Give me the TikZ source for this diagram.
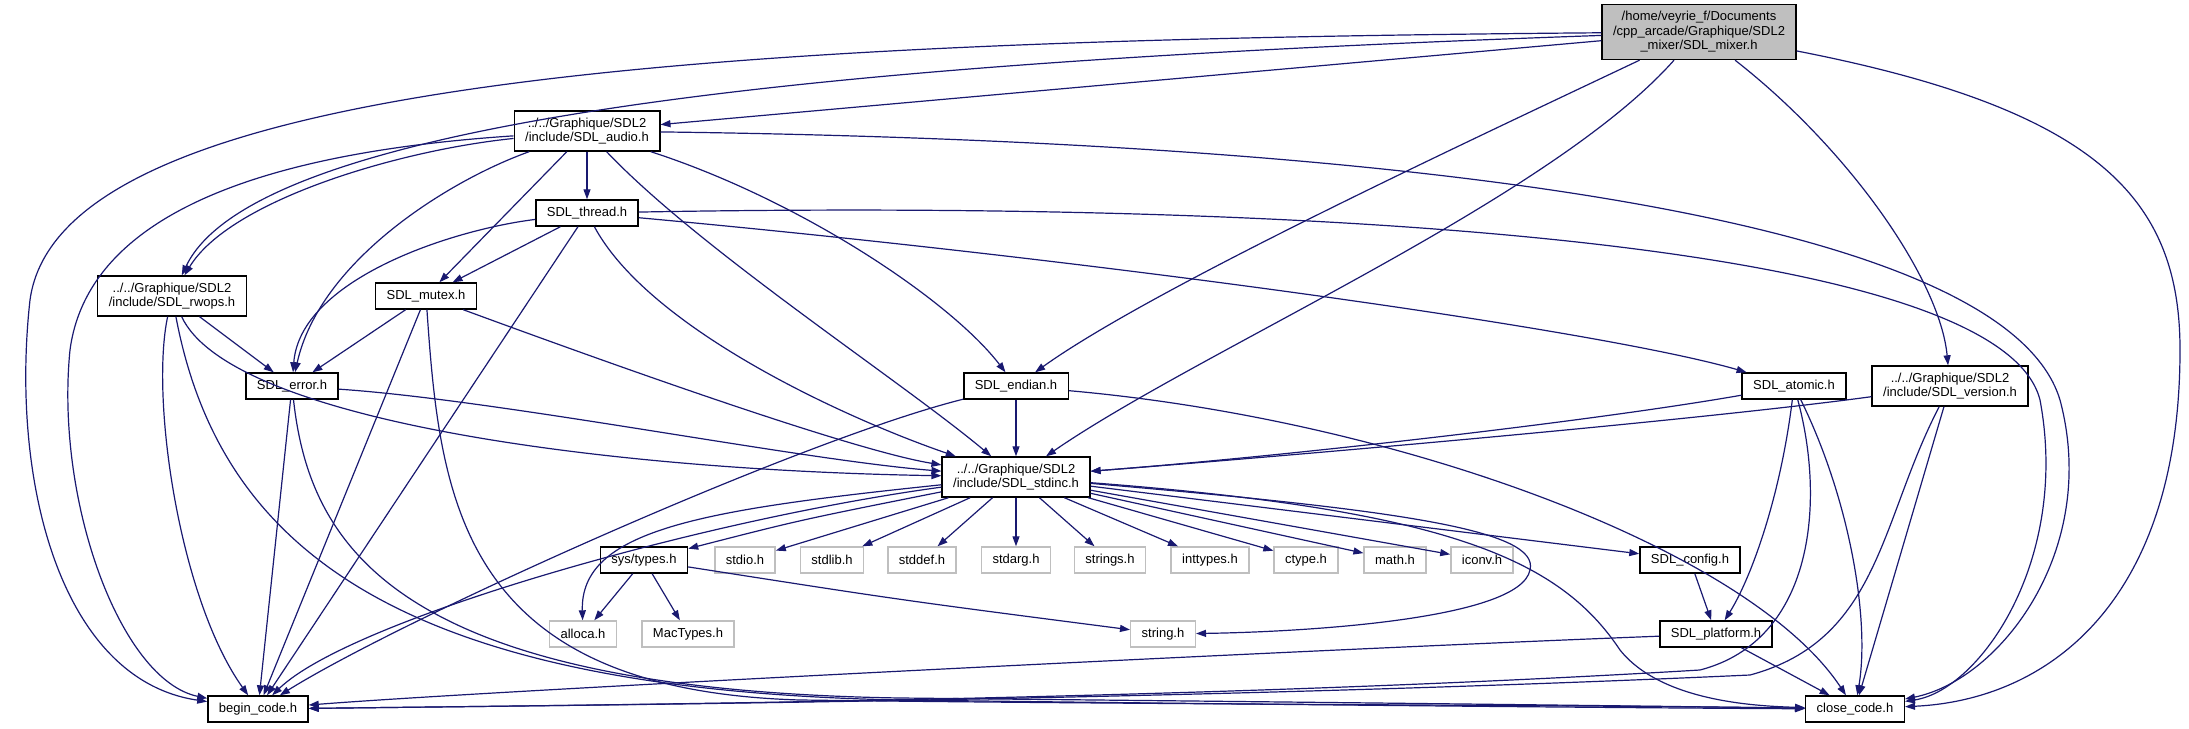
\documentclass[tikz,border=0pt]{standalone}
\usepackage{fontspec}
\setmainfont{Liberation Sans}
\usetikzlibrary{arrows.meta}

\begin{document}
\begin{tikzpicture}[
        x=1pt, y=-1pt,
        file/.style={
          rectangle,
          draw=black,
          line width=1.4pt,
          fill=white,
          inner xsep=11pt,
          minimum height=26pt,
          align=center,
          font=\fontsize{13}{14.5}\selectfont
        },
        twoline/.style={file, minimum height=40pt},
        sysfile/.style={file, draw=gray!50},
        current/.style={file, fill=gray!50, minimum height=55pt},
        edge/.style={
          -{Triangle[length=10pt,width=7pt]},
          draw={rgb,255:red,25;green,25;blue,112},
          line width=1.2pt
        }
      ]
      \useasboundingbox (0,0) rectangle (2189,728);

      % Nodes
      \node [current] (mixer) at (1699,32) {/home/veyrie\_f/Documents\\/cpp\_arcade/Graphique/SDL2\\\_mixer/SDL\_mixer.h};
      \node [twoline] (audio) at (587,131) {../../Graphique/SDL2\\/include/SDL\_audio.h};
      \node [file] (thread) at (587,213) {SDL\_thread.h};
      \node [twoline] (rwops) at (172,296) {../../Graphique/SDL2\\/include/SDL\_rwops.h};
      \node [file] (mutex) at (426,296) {SDL\_mutex.h};
      \node [file] (error) at (292,386) {SDL\_error.h};
      \node [file] (endian) at (1016,386) {SDL\_endian.h};
      \node [file] (atomic) at (1794,386) {SDL\_atomic.h};
      \node [twoline] (version) at (1950,386) {../../Graphique/SDL2\\/include/SDL\_version.h};
      \node [twoline] (stdinc) at (1016,477) {../../Graphique/SDL2\\/include/SDL\_stdinc.h};
      \node [file] (systypes) at (644,560) {sys/types.h};
      \node [sysfile] (stdio) at (745,560) {stdio.h};
      \node [sysfile] (stdlib) at (832,560) {stdlib.h};
      \node [sysfile] (stddef) at (922,560) {stddef.h};
      \node [sysfile] (stdarg) at (1016,560) {stdarg.h};
      \node [sysfile] (strings) at (1110,560) {strings.h};
      \node [sysfile] (inttypes) at (1210,560) {inttypes.h};
      \node [sysfile] (ctype) at (1306,560) {ctype.h};
      \node [sysfile] (math) at (1395,560) {math.h};
      \node [sysfile] (iconv) at (1482,560) {iconv.h};
      \node [file] (config) at (1690,560) {SDL\_config.h};
      \node [sysfile] (alloca) at (583,634) {alloca.h};
      \node [sysfile] (mactypes) at (688,634) {MacTypes.h};
      \node [sysfile] (string) at (1163,634) {string.h};
      \node [file] (platform) at (1716,634) {SDL\_platform.h};
      \node [file] (begin) at (258,709) {begin\_code.h};
      \node [file] (close) at (1855,709) {close\_code.h};

      % SDL_mixer.h
      \draw [edge] (mixer) .. controls (700,40) and (60,80) .. (30,300) .. controls (10,480) and (60,680) .. (begin);
      \draw [edge] (mixer) -- (audio);
      \draw [edge] (mixer) .. controls (900,60) and (260,110) .. (rwops);
      \draw [edge] (mixer) .. controls (1450,150) and (1150,290) .. (endian);
      \draw [edge] (mixer) .. controls (1550,200) and (1200,350) .. (stdinc);
      \draw [edge] (mixer) .. controls (1850,150) and (1940,280) .. (version);
      \draw [edge] (mixer) .. controls (2100,110) and (2180,200) .. (2180,350) .. controls (2180,600) and (2050,700) .. (close);

      % SDL_audio.h
      \draw [edge] (audio) .. controls (400,150) and (230,200) .. (rwops);
      \draw [edge] (audio) .. controls (300,150) and (90,200) .. (70,350) .. controls (55,500) and (120,680) .. (begin);
      \draw [edge] (audio) .. controls (450,180) and (320,260) .. (error);
      \draw [edge] (audio) -- (mutex);
      \draw [edge] (audio) -- (thread);
      \draw [edge] (audio) .. controls (700,250) and (900,380) .. (stdinc);
      \draw [edge] (audio) .. controls (800,200) and (950,300) .. (endian);
      \draw [edge] (audio) .. controls (1300,140) and (2000,200) .. (2060,400) .. controls (2100,550) and (2000,680) .. (close);

      % SDL_thread.h
      \draw [edge] (thread) .. controls (450,230) and (300,280) .. (error);
      \draw [edge] (thread) -- (mutex);
      \draw [edge] (thread) .. controls (650,330) and (850,420) .. (stdinc);
      \draw [edge] (thread) -- (begin);
      \draw [edge] (thread) .. controls (1100,260) and (1600,330) .. (atomic);
      \draw [edge] (thread) .. controls (1300,200) and (2000,240) .. (2040,400) .. controls (2070,560) and (1980,690) .. (close);

      % SDL_mutex.h
      \draw [edge] (mutex) -- (error);
      \draw [edge] (mutex) .. controls (600,360) and (850,450) .. (stdinc);
      \draw [edge] (mutex) -- (begin);
      \draw [edge] (mutex) .. controls (440,500) and (460,690) .. (800,700) .. controls (1200,705) and (1600,705) .. (close);

      % SDL_rwops.h
      \draw [edge] (rwops) -- (error);
      \draw [edge] (rwops) .. controls (230,420) and (600,470) .. (stdinc);
      \draw [edge] (rwops) .. controls (150,400) and (180,600) .. (begin);
      \draw [edge] (rwops) .. controls (220,550) and (400,690) .. (900,700) .. controls (1300,705) and (1650,708) .. (close);

      % SDL_error.h
      \draw [edge] (error) .. controls (500,400) and (800,460) .. (stdinc);
      \draw [edge] (error) -- (begin);
      \draw [edge] (error) .. controls (310,550) and (400,690) .. (900,698) .. controls (1300,702) and (1650,706) .. (close);

      % SDL_endian.h
      \draw [edge] (endian) -- (stdinc);
      \draw [edge] (endian) .. controls (800,440) and (400,620) .. (begin);
      \draw [edge] (endian) .. controls (1400,420) and (1750,550) .. (close);

      % SDL_atomic.h
      \draw [edge] (atomic) .. controls (1600,420) and (1300,455) .. (stdinc);
      \draw [edge] (atomic) .. controls (1780,500) and (1750,580) .. (platform);
      \draw [edge] (atomic) .. controls (1825,500) and (1815,640) .. (1700,670) .. controls (1200,700) and (600,705) .. (begin);
      \draw [edge] (atomic) .. controls (1850,500) and (1870,620) .. (close);

      % SDL_version.h
      \draw [edge] (version) .. controls (1700,420) and (1300,455) .. (stdinc);
      \draw [edge] (version) .. controls (1880,520) and (1880,640) .. (1750,675) .. controls (1200,700) and (600,705) .. (begin);
      \draw [edge] (version) -- (close);

      % SDL_stdinc.h
      \draw [edge] (stdinc) .. controls (800,520) .. (systypes);
      \foreach \hdr in {stdio, stdlib, stddef, stdarg, strings, inttypes, ctype, math, iconv, config}
        \draw [edge] (stdinc) -- (\hdr);
      \draw [edge] (stdinc) .. controls (700,510) and (580,530) .. (alloca);
      \draw [edge] (stdinc) .. controls (1400,510) and (1540,530) .. (1530,570) .. controls (1520,620) and (1300,632) .. (string);
      \draw [edge] (stdinc) .. controls (700,520) and (350,620) .. (begin);
      \draw [edge] (stdinc) .. controls (1450,510) and (1560,560) .. (1620,650) .. controls (1660,700) and (1750,706) .. (close);

      % sys/types.h
      \draw [edge] (systypes) -- (alloca);
      \draw [edge] (systypes) -- (mactypes);
      \draw [edge] (systypes) .. controls (900,600) .. (string);

      % SDL_config.h, SDL_platform.h
      \draw [edge] (config) -- (platform);
      \draw [edge] (platform) .. controls (1300,650) and (500,690) .. (begin);
      \draw [edge] (platform) -- (close);

    \end{tikzpicture}
\end{document}
